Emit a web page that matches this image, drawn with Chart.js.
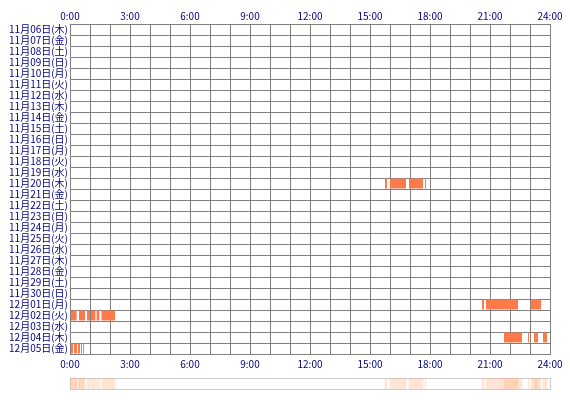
<!DOCTYPE html>
<html><head><meta charset="utf-8">
<script src="https://cdn.jsdelivr.net/npm/chart.js@4"></script>
<style>body{margin:0;background:#fff}#a{position:absolute;left:0;top:0;width:570px;height:372px}#b{position:absolute;left:0;top:372px;width:570px;height:22px}</style>
</head><body>
<div id="a"><canvas id="c1"></canvas></div>
<div id="b"><canvas id="c2"></canvas></div>
<script>
var days = ['11月06日(木)','11月07日(金)','11月08日(土)','11月09日(日)','11月10日(月)','11月11日(火)','11月12日(水)','11月13日(木)','11月14日(金)','11月15日(土)','11月16日(日)','11月17日(月)','11月18日(火)','11月19日(水)','11月20日(木)','11月21日(金)','11月22日(土)','11月23日(日)','11月24日(月)','11月25日(火)','11月26日(水)','11月27日(木)','11月28日(金)','11月29日(土)','11月30日(日)','12月01日(月)','12月02日(火)','12月03日(水)','12月04日(木)','12月05日(金)'];
// [day index, start hour, end hour]
var segments = [
  [14,15.75,15.85],[14,16.0,16.8],[14,16.95,17.65],[14,17.75,17.8],
  [25,20.6,20.7],[25,20.8,22.4],[25,23.05,23.55],
  [26,0.05,0.33],[26,0.45,0.75],[26,0.85,1.0],[26,1.05,1.27],[26,1.33,1.47],[26,1.57,2.25],
  [28,21.7,22.6],[28,22.9,22.95],[28,23.2,23.4],[28,23.65,23.85],
  [29,0.05,0.15],[29,0.2,0.35],[29,0.4,0.5],[29,0.55,0.6],[29,0.65,0.7]
];
var hourLabels = ['0:00','3:00','6:00','9:00','12:00','15:00','18:00','21:00','24:00'];

var font = {family:'"Noto Sans CJK JP"', size:10};
var navy = '#000080';
function tickCb(v){ return v % 3 === 0 ? hourLabels[v/3] : ''; }
var xAxis = function(pos, h){ return {
  type:'linear', position:pos, min:0, max:24,
  ticks:{stepSize:1, autoSkip:false, maxRotation:0, color:navy, font:font, padding:pos == 'bottom' ? 4 : 2, callback:tickCb},
  grid:{color:'#808080', lineWidth:1, drawTicks:false},
  border:{color:'#808080'},
  afterFit:function(s){ s.height = h; }
};};

new Chart(document.getElementById('c1'), {
  type:'bar',
  data:{labels:days, datasets:[{
    data:segments.map(function(s){ return {y:days[s[0]], x:[s[1],s[2]]}; }),
    backgroundColor:'#ff7a4a', barPercentage:0.9, categoryPercentage:1, grouped:false
  }]},
  options:{
    indexAxis:'y', responsive:true, maintainAspectRatio:false, animation:false,
    layout:{padding:{left:2,right:20,top:10,bottom:0}},
    plugins:{legend:{display:false}, tooltip:{enabled:false}},
    scales:{
      x:xAxis('bottom', 18), x2:xAxis('top', 14),
      y:{ticks:{color:navy, font:font, padding:2, autoSkip:false},
         grid:{color:'#808080', lineWidth:1, drawTicks:false, offset:true},
         border:{color:'#808080'},
         afterFit:function(s){ s.width = 68; }}
    }
  }
});

new Chart(document.getElementById('c2'), {
  type:'bar',
  data:{labels:['all'], datasets:[{
    data:segments.map(function(s){ return {y:'all', x:[s[1],s[2]]}; }),
    backgroundColor:'rgba(255,170,120,0.3)', barPercentage:1, categoryPercentage:1, grouped:false
  }]},
  options:{
    indexAxis:'y', responsive:true, maintainAspectRatio:false, animation:false,
    layout:{padding:{left:70,right:20,top:6,bottom:5}},
    plugins:{legend:{display:false}, tooltip:{enabled:false}},
    scales:{
      x:{type:'linear', min:0, max:24, display:true, ticks:{display:false}, grid:{display:false, drawTicks:false}, border:{color:'#ccc'}},
      x2:{type:'linear', position:'top', min:0, max:24, ticks:{display:false}, grid:{display:false, drawTicks:false}, border:{color:'#ccc'}},
      y:{display:true, ticks:{display:false}, grid:{display:false, drawTicks:false}, border:{color:'#ccc'}, afterFit:function(s){ s.width = 0; }},
      y2:{position:'right', ticks:{display:false}, grid:{display:false, drawTicks:false}, border:{color:'#ccc'}, afterFit:function(s){ s.width = 0; }}
    }
  }
});
</script>
</body></html>
